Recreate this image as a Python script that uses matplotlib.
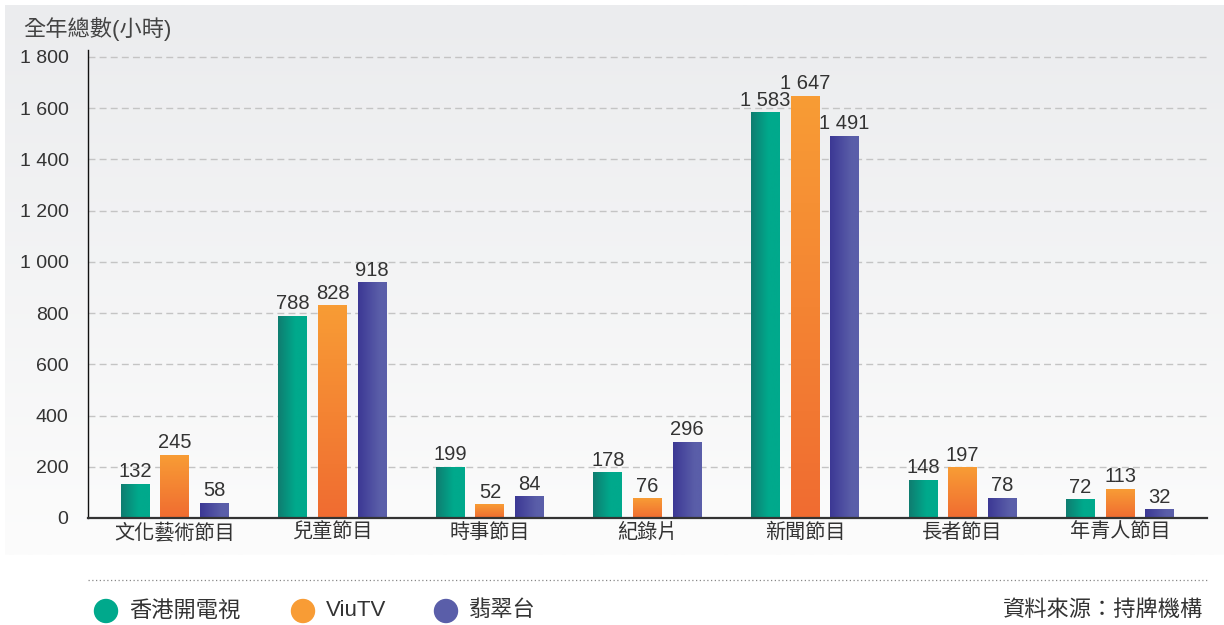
import numpy as np
import matplotlib
matplotlib.use("Agg")
import matplotlib.pyplot as plt
from matplotlib.colors import to_rgb
from matplotlib.patches import Ellipse

plt.rcParams['font.family'] = ['Liberation Sans', 'Noto Sans CJK TC', 'DejaVu Sans']
plt.rcParams['font.weight'] = 'light'

categories = ['文化藝術節目', '兒童節目', '時事節目', '紀錄片', '新聞節目', '長者節目', '年青人節目']
series_names = ['香港開電視', 'ViuTV', '翡翠台']
hkopen = [132, 788, 199, 178, 1583, 148, 72]
viutv = [245, 828, 52, 76, 1647, 197, 113]
tvb = [58, 918, 84, 296, 1491, 78, 32]
yticks = [0, 200, 400, 600, 800, 1000, 1200, 1400, 1600, 1800]
y_title = '全年總數(小時)'
source = '資料來源：持牌機構'

W, H = 1224, 625
fig = plt.figure(figsize=(W / 100, H / 100), dpi=100)
fig.patch.set_facecolor('white')

# background overlay axes in pixel coordinates
bg = fig.add_axes([0, 0, 1, 1], zorder=-1)
bg.set_xlim(0, W)
bg.set_ylim(H, 0)
bg.axis('off')
top_c = np.array(to_rgb('#ebecee'))
bot_c = np.array(to_rgb('#fcfcfc'))
t = np.linspace(0, 1, 256)[:, None]
grad = (top_c[None, :] * (1 - t) + bot_c[None, :] * t)[:, None, :]
bg.imshow(grad, extent=[5, W, 555, 5], aspect='auto', interpolation='bilinear', zorder=0)
bg.set_xlim(0, W)
bg.set_ylim(H, 0)

# main axes
left, right = 88 / W, 1207 / W
bottom, top = (H - 518) / H, (H - 50) / H
ax = fig.add_axes([left, bottom, right - left, top - bottom])
ax.patch.set_alpha(0)

x = np.arange(len(categories))
offs = [-0.251, 0.0, 0.251]
bw = 0.184
data = [hkopen, viutv, tvb]


def hgrad(c0, c1, plateau):
    s = np.linspace(0, 1, 64)
    s = np.clip(s / plateau, 0, 1)
    a, b = np.array(to_rgb(c0)), np.array(to_rgb(c1))
    return (a[None, :] * (1 - s[:, None]) + b[None, :] * s[:, None])[None, :, :]


def vgrad(c_bottom, c_top):
    s = np.linspace(0, 1, 64)
    a, b = np.array(to_rgb(c_bottom)), np.array(to_rgb(c_top))
    return (a[None, :] * (1 - s[:, None]) + b[None, :] * s[:, None])[:, None, :]


grads = [hgrad('#0f7d70', '#00a98c', 0.6),
         vgrad('#f06c31', '#f89c35'),
         hgrad('#3c3894', '#5a5ea9', 0.75)]
solid = ['#00a98c', '#f89c35', '#5a5ea9']

for k in range(3):
    bars = ax.bar(x + offs[k], data[k], width=bw, color=solid[k], zorder=2)
    for b, v in zip(bars, data[k]):
        x0 = b.get_x()
        ax.imshow(grads[k], extent=[x0, x0 + bw, 0, v], origin='lower',
                  aspect='auto', interpolation='bilinear', zorder=3)
        ax.annotate(f'{v:,}'.replace(',', ' '), (x0 + bw / 2, v),
                    xytext=(0, 2), textcoords='offset points',
                    ha='center', va='bottom', fontsize=14.5, color='#333333', zorder=4)

ax.set_xlim(-0.552, len(categories) - 1 + 0.552)
ax.set_ylim(0, 1827)
ax.set_yticks(yticks)
ax.set_yticklabels([f'{v:,}'.replace(',', ' ') for v in yticks])
ax.set_xticks(x)
ax.set_xticklabels(categories)
ax.tick_params(axis='y', length=0, pad=14, labelsize=14, labelcolor='#333333')
ax.tick_params(axis='x', length=0, pad=3.5, labelsize=14.5, labelcolor='#333333')
ax.yaxis.grid(True, color='#c4c4c4', linestyle=(0, (5, 3)), linewidth=1, zorder=1)
ax.set_axisbelow(True)
for s in ['top', 'right']:
    ax.spines[s].set_visible(False)
ax.spines['left'].set_color('#111111')
ax.spines['left'].set_linewidth(1)
ax.spines['bottom'].set_color('#333333')
ax.spines['bottom'].set_linewidth(1.6)
ax.spines['bottom'].set_zorder(5)

# titles and legend
bg.text(23, 29, y_title, fontsize=16, color='#444444', ha='left', va='center')
bg.plot([88, 1207], [580, 580], color='#888888', linestyle=(0, (1, 2)), linewidth=0.9)
leg_x = [106, 303, 446]
for cx, col, name in zip(leg_x, solid, series_names):
    bg.add_patch(Ellipse((cx, 611), 23, 23, color=col, zorder=2))
    bg.text(cx + 23, 611, name, fontsize=16, color='#333333', ha='left', va='center')
bg.text(1203, 610, source, fontsize=16, color='#333333', ha='right', va='center')

fig.savefig('out.png', dpi=100, facecolor='white')
